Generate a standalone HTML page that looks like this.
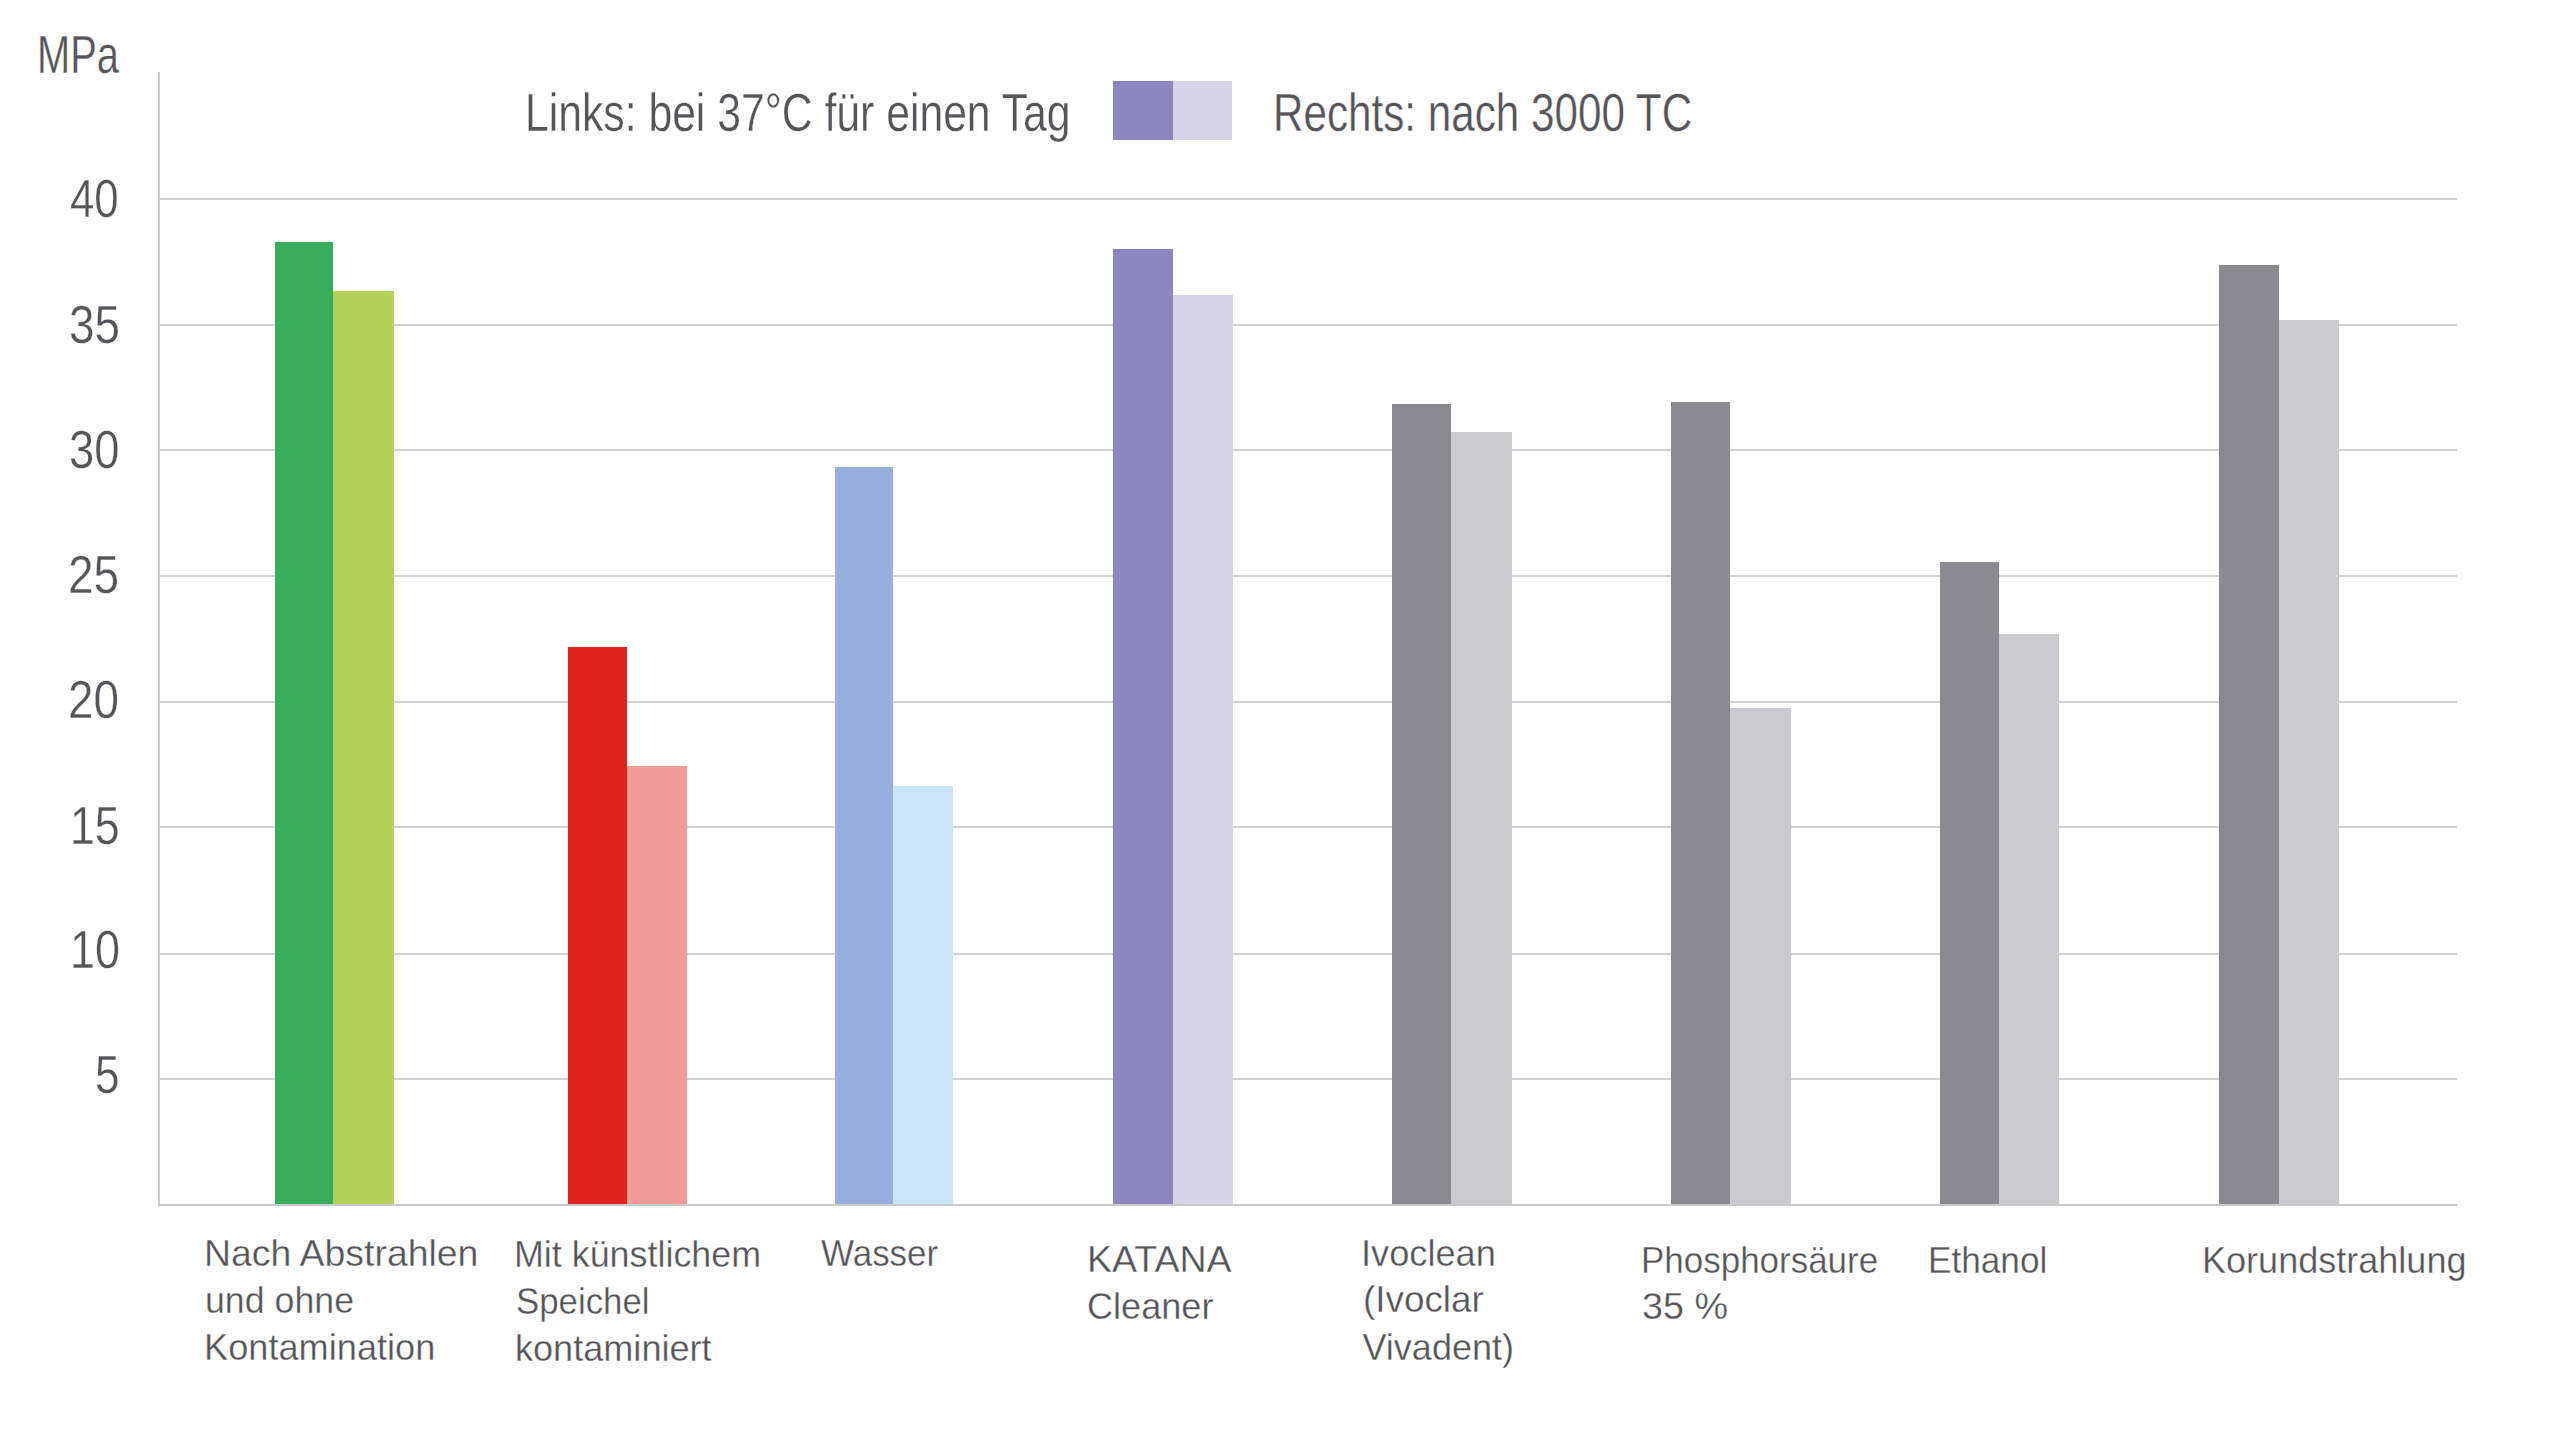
<!DOCTYPE html>
<html><head><meta charset="utf-8"><style>
html,body{margin:0;padding:0;background:#fff;width:2560px;height:1440px;overflow:hidden}
body{position:relative;font-family:"Liberation Sans",sans-serif}
div{position:absolute}
span{position:absolute;white-space:nowrap;line-height:1;color:#555459;transform-origin:0 0}
.t{-webkit-text-stroke:0.35px #fff}
.c{-webkit-text-stroke:0.3px #fff}

</style></head><body>
<div style="left:160px;top:198px;width:2297px;height:2px;background:#d2d2d4;"></div>
<div style="left:160px;top:324px;width:2297px;height:2px;background:#d2d2d4;"></div>
<div style="left:160px;top:449px;width:2297px;height:2px;background:#d2d2d4;"></div>
<div style="left:160px;top:575px;width:2297px;height:2px;background:#d2d2d4;"></div>
<div style="left:160px;top:701px;width:2297px;height:2px;background:#d2d2d4;"></div>
<div style="left:160px;top:826px;width:2297px;height:2px;background:#d2d2d4;"></div>
<div style="left:160px;top:953px;width:2297px;height:2px;background:#d2d2d4;"></div>
<div style="left:160px;top:1078px;width:2297px;height:2px;background:#d2d2d4;"></div>
<div style="left:275px;top:242px;width:58px;height:963px;background:#39ad5c;"></div>
<div style="left:333px;top:291px;width:61px;height:914px;background:#b5d15a;"></div>
<div style="left:568px;top:647px;width:59px;height:558px;background:#e0231e;"></div>
<div style="left:627px;top:766px;width:60px;height:439px;background:#f09b97;"></div>
<div style="left:835px;top:467px;width:58px;height:738px;background:#97afdc;"></div>
<div style="left:893px;top:786px;width:60px;height:419px;background:#c9e5f7;"></div>
<div style="left:1113px;top:249px;width:60px;height:956px;background:#8d86c0;"></div>
<div style="left:1173px;top:295px;width:60px;height:910px;background:#d6d3e9;"></div>
<div style="left:1392px;top:404px;width:59px;height:801px;background:#8b8a90;"></div>
<div style="left:1451px;top:432px;width:61px;height:773px;background:#cbcacf;"></div>
<div style="left:1671px;top:402px;width:59px;height:803px;background:#8b8a90;"></div>
<div style="left:1730px;top:708px;width:61px;height:497px;background:#cbcacf;"></div>
<div style="left:1940px;top:562px;width:59px;height:643px;background:#8b8a90;"></div>
<div style="left:1999px;top:634px;width:60px;height:571px;background:#cbcacf;"></div>
<div style="left:2219px;top:265px;width:60px;height:940px;background:#8b8a90;"></div>
<div style="left:2279px;top:320px;width:60px;height:885px;background:#cbcacf;"></div>
<div style="left:158px;top:72px;width:2px;height:1134px;background:#c9c9cb;"></div>
<div style="left:158px;top:1204px;width:2299px;height:2px;background:#c9c9cb;"></div>
<div style="left:1113px;top:81px;width:60px;height:59px;background:#8d86c0;"></div>
<div style="left:1173px;top:81px;width:59px;height:59px;background:#d6d3e9;"></div>
<span class="t" id="y40" style="left:70.44px;top:171.00px;font-size:54px;transform:scaleX(0.8114)">40</span>
<span class="t" id="y35" style="left:69.40px;top:296.60px;font-size:54px;transform:scaleX(0.8482)">35</span>
<span class="t" id="y30" style="left:69.32px;top:422.20px;font-size:54px;transform:scaleX(0.8393)">30</span>
<span class="t" id="y25" style="left:68.24px;top:547.30px;font-size:54px;transform:scaleX(0.8527)">25</span>
<span class="t" id="y20" style="left:68.45px;top:672.30px;font-size:54px;transform:scaleX(0.8491)">20</span>
<span class="t" id="y15" style="left:69.69px;top:798.30px;font-size:54px;transform:scaleX(0.8278)">15</span>
<span class="t" id="y10" style="left:69.67px;top:922.20px;font-size:54px;transform:scaleX(0.8333)">10</span>
<span class="t" id="y5" style="left:95.17px;top:1046.90px;font-size:54px;transform:scaleX(0.8154)">5</span>
<span class="t" id="MPa" style="left:37.05px;top:27.40px;font-size:54px;transform:scaleX(0.7374)">MPa</span>
<span class="t" id="links" style="left:524.84px;top:85.00px;font-size:54px;transform:scaleX(0.7906)">Links: bei 37°C für einen Tag</span>
<span class="t" id="rechts" style="left:1273.07px;top:84.80px;font-size:54px;transform:scaleX(0.7815)">Rechts: nach 3000 TC</span>
<span class="c" id="c0" style="left:204.18px;top:1236.00px;font-size:36px;transform:scaleX(1.0386)">Nach Abstrahlen</span>
<span class="c" id="c1" style="left:205.31px;top:1282.90px;font-size:36px;transform:scaleX(0.9925)">und ohne</span>
<span class="c" id="c2" style="left:204.28px;top:1329.80px;font-size:36px;transform:scaleX(1.0053)">Kontamination</span>
<span class="c" id="c3" style="left:514.01px;top:1237.00px;font-size:36px;transform:scaleX(0.9959)">Mit künstlichem</span>
<span class="c" id="c4" style="left:515.57px;top:1283.90px;font-size:36px;transform:scaleX(0.9664)">Speichel</span>
<span class="c" id="c5" style="left:514.99px;top:1330.80px;font-size:36px;transform:scaleX(1.0026)">kontaminiert</span>
<span class="c" id="c6" style="left:821.00px;top:1236.30px;font-size:36px;transform:scaleX(0.9708)">Wasser</span>
<span class="c" id="c7" style="left:1087.07px;top:1242.20px;font-size:36px;transform:scaleX(1.0426)">KATANA</span>
<span class="c" id="c8" style="left:1087.39px;top:1289.10px;font-size:36px;transform:scaleX(1.0033)">Cleaner</span>
<span class="c" id="c9" style="left:1360.98px;top:1235.50px;font-size:36px;transform:scaleX(1.0058)">Ivoclean</span>
<span class="c" id="c10" style="left:1362.55px;top:1282.30px;font-size:36px;transform:scaleX(1.0235)">(Ivoclar</span>
<span class="c" id="c11" style="left:1362.50px;top:1329.70px;font-size:36px;transform:scaleX(1.0000)">Vivadent)</span>
<span class="c" id="c12" style="left:1640.79px;top:1242.70px;font-size:36px;transform:scaleX(0.9712)">Phosphorsäure</span>
<span class="c" id="c13" style="left:1641.60px;top:1289.40px;font-size:36px;transform:scaleX(1.0481)">35 %</span>
<span class="c" id="c14" style="left:1928.07px;top:1242.50px;font-size:36px;transform:scaleX(0.9769)">Ethanol</span>
<span class="c" id="c15" style="left:2201.70px;top:1243.00px;font-size:36px;transform:scaleX(1.0012)">Korundstrahlung</span>
</body></html>
